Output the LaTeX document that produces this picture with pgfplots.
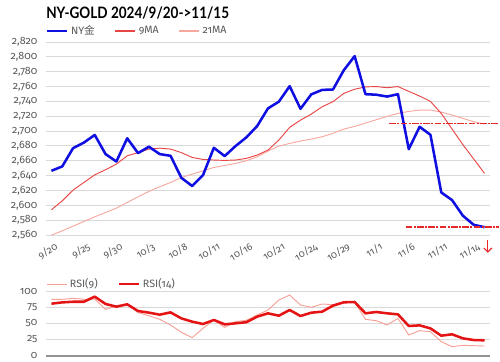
\documentclass[border=0pt]{standalone}
\usepackage{fontspec}
\usepackage{graphicx}
\setmainfont{Fira Sans}[Numbers=OldStyle]
\newfontfamily\titlefont{Lato}[Numbers=Lining]
\newfontfamily\cjk{Noto Sans CJK SC}
\usepackage{pgfplots}
\usepackage{pgfplotstable}
\pgfplotsset{compat=1.18}
\usetikzlibrary{arrows.meta}

\definecolor{goldblue}{RGB}{15,15,225}
\definecolor{maA}{RGB}{232,70,70}
\definecolor{maB}{RGB}{246,168,158}
\definecolor{rsiA}{RGB}{228,20,20}
\definecolor{rsiB}{RGB}{246,160,150}
\definecolor{gridc}{RGB}{217,217,217}
\definecolor{tickc}{RGB}{89,89,89}
\definecolor{dashc}{RGB}{230,40,40}

\pgfplotstableread{
i blue ma9 ma21
0 2646.5 2594 2559.8
1 2652.4 2606 2565.6
2 2677 2620.5 2571.9
3 2684.5 2630.8 2578.2
4 2694.8 2641 2584.5
5 2669 2648 2590.3
6 2659 2655.5 2596.2
7 2690.3 2666.7 2603.8
8 2670.3 2671 2611.5
9 2679 2675.7 2618.7
10 2669 2677 2625
11 2666.7 2675.7 2630.8
12 2637 2671 2637.5
13 2626 2664.5 2642
14 2640.7 2661.8 2646.5
15 2677.5 2661 2651
16 2666.3 2660.5 2653.7
17 2679.8 2661 2656.4
18 2691.5 2663.2 2660
19 2706.8 2667.7 2665.4
20 2730.6 2674.4 2673
21 2739.6 2687.9 2679.8
22 2760.5 2705 2683.4
23 2730 2714.8 2686.6
24 2749.5 2722.9 2689.2
25 2755.5 2732.8 2692.4
26 2756 2739.6 2696.9
27 2782 2750.8 2702.7
28 2801 2756.4 2706.3
29 2749.7 2759.5 2710.8
30 2749 2760 2715.3
31 2746.5 2758.4 2719.8
32 2749.7 2760 2723.8
33 2675.7 2753.5 2726.5
34 2705.8 2747.2 2728.3
35 2695 2740 2728.3
36 2617.3 2723.8 2725.6
37 2607 2702.7 2721.6
38 2585.9 2681.6 2717.1
39 2573.7 2662.3 2712.6
40 2570.5 2643 2709.4
}\goldtable

\pgfplotstableread{
i r9 r14
0 87.8 81
1 87.8 83
2 89.3 84
3 87.8 84
4 88.3 92
5 72 80.5
6 77.3 76.3
7 80.5 80
8 67 69.5
9 62.2 67
10 56.5 63.8
11 47.7 67.4
12 36.2 58
13 27.9 52.9
14 42.4 49.2
15 55.5 55.5
16 44 48.7
17 52.9 50.3
18 55 52
19 63.3 60.7
20 71.1 65.9
21 86.7 62.2
22 94.5 71.1
23 78.9 61.7
24 75.3 66.9
25 80.5 68.5
26 79.4 77.9
27 83.1 83.1
28 83.6 83.6
29 56.5 65.9
30 54.4 68
31 47.7 65.9
32 58 64.3
33 32 46.1
34 38.8 47.1
35 37.2 42.4
36 21.6 31
37 13.8 33.1
38 15.9 26.8
39 15.4 24.2
40 14.8 23.7
}\rsitable

\pgfplotsset{
  common/.style={
    scale only axis,
    width=333pt,
    xmin=-0.5, xmax=40.5,
    axis line style={draw=none},
    major tick length=0pt,
    ymajorgrids,
    grid style={gridc, line width=0.75pt},
    tick label style={font=\fontsize{8}{9.5}\selectfont, text=tickc},
    /pgf/number format/assume math mode=true,
    /pgf/number format/1000 sep={,},
    clip=false,
    legend cell align=left,
    legend image code/.code={\draw[##1] (0pt,0pt) -- (15pt,0pt);},
  },
}

\begin{document}
\begin{tikzpicture}
\useasboundingbox (0,0) rectangle (375pt,-270.75pt);
\node[anchor=west, inner sep=0pt, font=\titlefont\bfseries\fontsize{11.8}{14}\selectfont] at (34.5pt,-10pt) {\scalebox{0.86}[1]{NY-GOLD 2024/9/20->11/15}};

\begin{axis}[common,
  at={(34.5pt,-176.25pt)}, anchor=south west,
  height=144.75pt,
  ymin=2560, ymax=2820,
  ytick={2560,2580,...,2820},
  xtick={0,3,...,39},
  xticklabels={9/20,9/25,9/30,10/3,10/8,10/11,10/16,10/21,10/24,10/29,11/1,11/6,11/11,11/14},
  xticklabel style={rotate=30, anchor=east, yshift=-9pt, inner sep=0.5pt, font=\fontsize{7.4}{9}\selectfont},
  yticklabel style={xshift=-3pt},
  legend columns=3,
  legend style={at={(0,1)}, anchor=west, yshift=8.25pt, draw=none, fill=none, inner sep=0pt,
    font=\fontsize{8}{9.5}\selectfont, text=tickc,
    /tikz/every even column/.append style={column sep=13pt}},
]
\addlegendimage{goldblue, line width=1.6pt}
\addlegendentry{NY{\cjk 金}}
\addlegendimage{maA, line width=0.9pt}
\addlegendentry{9MA}
\addlegendimage{maB, line width=0.9pt}
\addlegendentry{21MA}
\addplot[maB, line width=0.7pt, forget plot] table[x=i, y=ma21] {\goldtable};
\addplot[maA, line width=0.7pt, forget plot] table[x=i, y=ma9] {\goldtable};
\addplot[goldblue, line width=1.9pt, line join=round, forget plot] table[x=i, y=blue] {\goldtable};
\addplot[dashc, line width=1pt, dash pattern=on 5pt off 1pt on 1.5pt off 1pt, forget plot] coordinates {(31.2,2710.5) (41.3,2710.5)};
\addplot[dashc, line width=1pt, dash pattern=on 5pt off 1pt on 1.5pt off 1pt, forget plot] coordinates {(32.7,2571) (41.3,2571)};
\draw[dashc, line width=0.9pt, -{Straight Barb[length=3pt,width=6pt]}] (axis cs:40.3,2553) -- (axis cs:40.3,2536);
\end{axis}

\begin{axis}[common,
  at={(34.5pt,-266.625pt)}, anchor=south west,
  height=48pt,
  ymin=0, ymax=100,
  ytick={25,50,75,100},
  extra y ticks={0},
  extra y tick style={major grid style={color=gray!85, line width=1.5pt}},
  xtick=\empty,
  yticklabel style={xshift=-3pt},
  legend columns=2,
  legend style={at={(0,1)}, anchor=west, yshift=5.6pt, draw=none, fill=none, inner sep=0pt,
    font=\fontsize{8}{9.5}\selectfont, text=tickc,
    /tikz/every even column/.append style={column sep=13pt}},
]
\addplot[rsiB, line width=0.7pt] table[x=i, y=r9] {\rsitable};
\addlegendentry{RSI(9)}
\addplot[rsiA, line width=1.9pt, line join=round] table[x=i, y=r14] {\rsitable};
\addlegendentry{RSI(14)}
\end{axis}
\end{tikzpicture}
\end{document}
